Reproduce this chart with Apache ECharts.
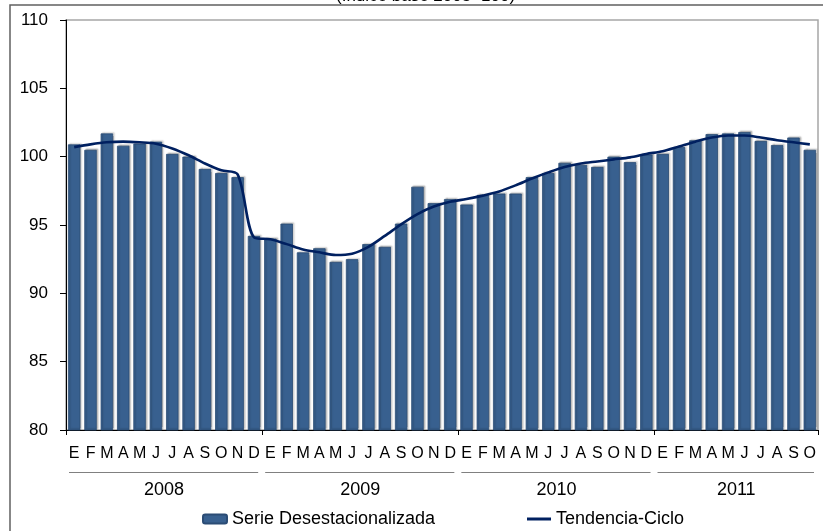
<!DOCTYPE html>
<html>
<head>
<meta charset="utf-8">
<script src="https://cdn.jsdelivr.net/npm/echarts@6/dist/echarts.min.js"></script>
<style>
html,body{margin:0;padding:0;background:#fff;}
#chart{width:823px;height:531px;}
</style>
</head>
<body>
<div id="chart"></div>
<script>
const titleText = '(Índice base 2003=100)';
const monthLetters = ['E','F','M','A','M','J','J','A','S','O','N','D'];
const years = ['2008','2009','2010','2011'];
const monthsPerYear = [12, 12, 12, 10];
const serieName = 'Serie Desestacionalizada';
const tendName = 'Tendencia-Ciclo';

const serie2008 = [100.9, 100.5, 101.7, 100.8, 100.95, 101.1, 100.2, 100.0, 99.1, 98.8, 98.5, 94.2];
const serie2009 = [94.0, 95.1, 93.0, 93.3, 92.3, 92.5, 93.6, 93.4, 95.1, 97.8, 96.6, 96.9];
const serie2010 = [96.5, 97.2, 97.3, 97.3, 98.5, 98.8, 99.55, 99.4, 99.25, 100.0, 99.6, 100.15];
const serie2011 = [100.2, 100.7, 101.2, 101.65, 101.7, 101.8, 101.15, 100.85, 101.4, 100.5];

const tend2008 = [100.7, 100.9, 101.05, 101.1, 101.05, 100.95, 100.6, 100.1, 99.5, 99.0, 98.7, 94.1];
const tend2009 = [93.95, 93.6, 93.2, 93.0, 92.8, 92.9, 93.4, 94.2, 95.05, 95.8, 96.35, 96.7];
const tend2010 = [96.9, 97.15, 97.45, 97.9, 98.4, 98.85, 99.25, 99.5, 99.65, 99.8, 99.95, 100.2];
const tend2011 = [100.4, 100.75, 101.1, 101.4, 101.55, 101.55, 101.4, 101.2, 101.05, 100.9];

const yMin = 80, yMax = 110, yStep = 5;

const serie = [].concat(serie2008, serie2009, serie2010, serie2011);
const tend = [].concat(tend2008, tend2009, tend2010, tend2011);
const categories = [];
const yearStarts = [];
monthsPerYear.forEach(function (n) {
  yearStarts.push(categories.length);
  for (let m = 0; m < n; m++) categories.push(monthLetters[m]);
});
const nCat = categories.length;
const yearCenter = {};
yearStarts.forEach(function (s, i) { yearCenter[s + monthsPerYear[i] / 2] = years[i]; });

const FONT = 'Liberation Sans, Arial, sans-serif';
const chart = echarts.init(document.getElementById('chart'), null, {renderer: 'canvas'});
const option = {
  animation: false,
  backgroundColor: '#ffffff',
  title: {
    text: titleText,
    left: 331,
    top: -17,
    textStyle: {fontFamily: FONT, fontSize: 17, fontWeight: 'normal', color: '#000'}
  },
  grid: {
    left: 66, right: 5, top: 20, bottom: 101,
    show: true, borderColor: '#a6a6a6', borderWidth: 1.5
  },
  legend: [{
    left: 197, top: 505,
    itemWidth: 24, itemHeight: 9,
    textStyle: {fontFamily: FONT, fontSize: 18, color: '#000'},
    data: [{name: serieName}]
  }, {
    left: 522, top: 505,
    icon: 'rect',
    itemWidth: 24, itemHeight: 3,
    textStyle: {fontFamily: FONT, fontSize: 18, color: '#000'},
    data: [{name: tendName}]
  }],
  xAxis: [{
    type: 'category',
    data: categories,
    boundaryGap: true,
    axisLine: {lineStyle: {color: '#000', width: 1}},
    axisTick: {show: true, length: 5, interval: function (i) { return i % 12 === 0; }, lineStyle: {color: '#000'}},
    axisLabel: {interval: 0, margin: 16, fontFamily: FONT, fontSize: 16, color: '#000'},
    splitLine: {show: false}
  }, {
    type: 'value',
    position: 'bottom',
    min: 0, max: nCat, interval: 1,
    axisLine: {show: false},
    axisTick: {show: false},
    splitLine: {show: false},
    axisLabel: {
      margin: 51, fontFamily: FONT, fontSize: 18, color: '#000',
      formatter: function (v) { return yearCenter[v] || ''; }
    }
  }],
  yAxis: {
    type: 'value',
    min: yMin, max: yMax, interval: yStep,
    axisLine: {show: true, lineStyle: {color: '#000', width: 1}},
    axisTick: {show: true, length: 6, lineStyle: {color: '#000'}},
    axisLabel: {margin: 18, fontFamily: FONT, fontSize: 17, color: '#000'},
    splitLine: {show: false}
  },
  series: [{
    name: serieName,
    type: 'bar',
    data: serie,
    barWidth: '76%',
    itemStyle: {
      color: '#38608f',
      borderColor: '#2b4c75', borderWidth: 0.8,
      shadowColor: 'rgba(0,0,0,0.25)', shadowBlur: 1.5, shadowOffsetX: 1.5, shadowOffsetY: -1
    }
  }, {
    name: tendName,
    type: 'line',
    data: tend,
    symbol: 'none',
    smooth: 0.3,
    lineStyle: {color: '#002060', width: 2.6},
    itemStyle: {color: '#002060'},
    z: 5
  }]
};
chart.setOption(option);

const gfx = [{
  type: 'rect', silent: true,
  shape: {x: 10, y: 5, width: 830, height: 540},
  style: {fill: 'none', stroke: '#606060', lineWidth: 1.5}
}];
const axisY = chart.convertToPixel({yAxisIndex: 0}, yMin);
yearStarts.forEach(function (s, i) {
  const x0 = chart.convertToPixel({xAxisIndex: 1}, s) + 3;
  const x1 = chart.convertToPixel({xAxisIndex: 1}, s + monthsPerYear[i]) - 4;
  const y = axisY + 42.5;
  gfx.push({
    type: 'line', silent: true,
    shape: {x1: x0, y1: y, x2: x1, y2: y},
    style: {stroke: '#808080', lineWidth: 1.2}
  });
});
chart.setOption({graphic: gfx});
</script>
</body>
</html>
